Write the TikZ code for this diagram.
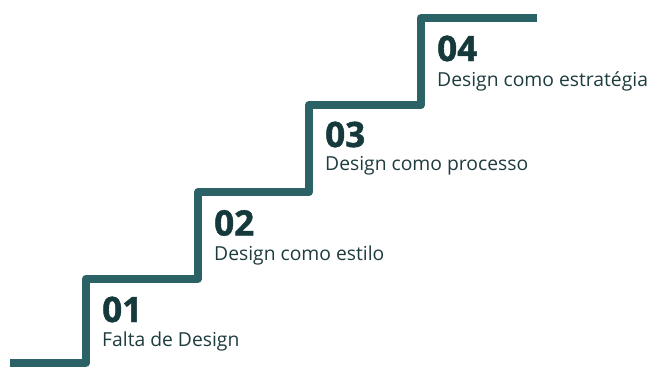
\documentclass[tikz,border=0pt]{standalone}
\usepackage{fontspec}
\setmainfont{Open Sans}
\newfontfamily\stepnumfont{Open Sans}[UprightFont=*,BoldFeatures={FakeBold=1.4}]
\definecolor{stairteal}{RGB}{42,98,102}
\definecolor{stepnum}{RGB}{22,58,60}
\definecolor{steptext}{RGB}{30,60,62}
\tikzset{
    stairline/.style={stairteal,line width=8pt,line join=round},
    stepno/.style={anchor=base west,inner sep=0pt,text=stepnum,font=\stepnumfont\fontsize{35}{40}\selectfont\bfseries},
    steplabel/.style={anchor=base west,inner sep=0pt,text=steptext,font=\fontsize{19.3}{23}\selectfont}
}
\begin{document}
\begin{tikzpicture}[
        x=1pt,y=-1pt
    ]
        \useasboundingbox (0,0) rectangle (649,367);

        \draw [stairline] (10,362.5)
            -- (86,362.5) -- (86,278.5)
            -- (198,278.5) -- (198,192)
            -- (309,192) -- (309,105)
            -- (421,105) -- (421,18)
            -- (537,18);

        \node [stepno] (num1) at (102,322) {01};
        \node [steplabel] (lab1) at (102,346) {Falta de Design};

        \node [stepno] (num2) at (214,235.5) {02};
        \node [steplabel] (lab2) at (214,260) {Design como estilo};

        \node [stepno] (num3) at (325,147) {03};
        \node [steplabel] (lab3) at (325,170) {Design como processo};

        \node [stepno] (num4) at (437,61) {04};
        \node [steplabel] (lab4) at (437,86) {Design como estratégia};
\end{tikzpicture}
\end{document}
